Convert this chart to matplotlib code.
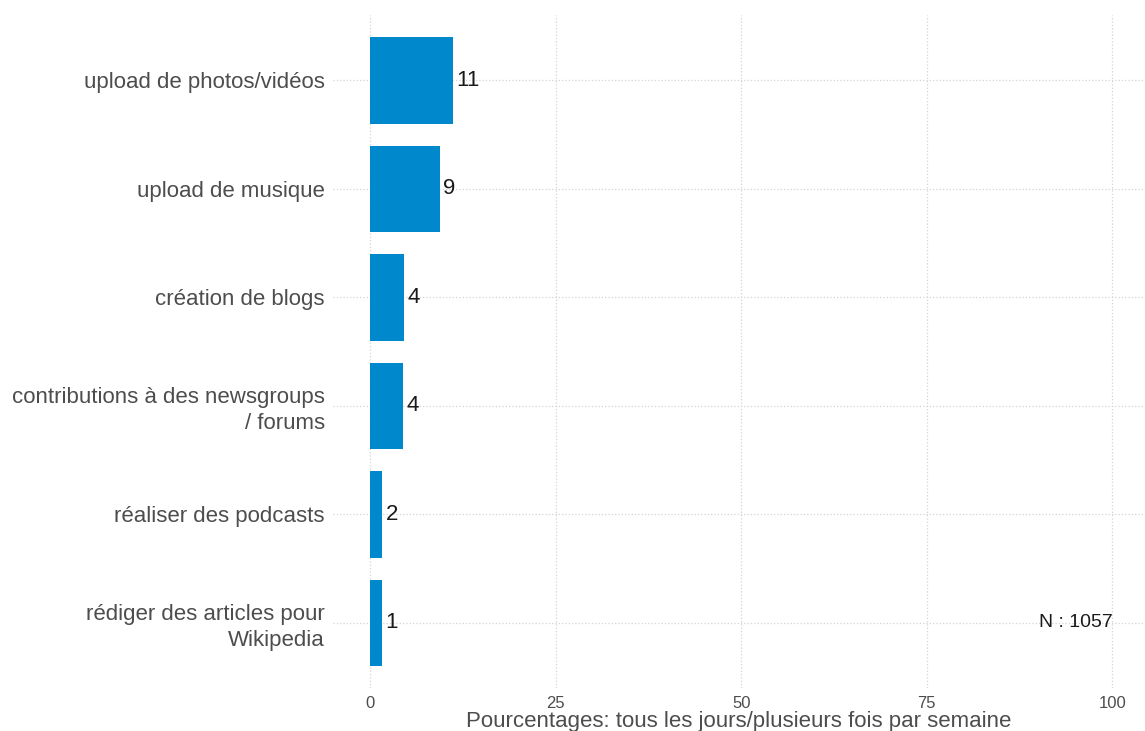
import matplotlib.pyplot as plt

categories = [
    "upload de photos/vidéos",
    "upload de musique",
    "création de blogs",
    "contributions à des newsgroups\n/ forums",
    "réaliser des podcasts",
    "rédiger des articles pour\nWikipedia",
]
values = [11.2, 9.4, 4.6, 4.4, 1.6, 1.6]
value_labels = ["11", "9", "4", "4", "2", "1"]
x_ticks = [0, 25, 50, 75, 100]
n_text = "N : 1057"
x_title = "Pourcentages: tous les jours/plusieurs fois par semaine"

plt.rcParams['font.family'] = ['Liberation Sans', 'DejaVu Sans']

W, H = 1145, 731
fig = plt.figure(figsize=(W / 100, H / 100), dpi=100)
ax = fig.add_axes([333 / W, (H - 688) / H, (W - 333) / W, 672.6 / H])

pos = list(range(len(categories), 0, -1))
ax.barh(pos, values, height=0.8, color='#0088cc', zorder=2)
for p, v, lab in zip(pos, values, value_labels):
    ax.annotate(lab, (v, p), xytext=(2.5, 0), textcoords='offset points',
                ha='left', va='center', fontsize=16, color='#1a1a1a', zorder=3)

ax.text(100, pos[-1], n_text, ha='right', va='center', fontsize=14, color='#1a1a1a')

ax.set_xlim(-5, 104.4)
ax.set_ylim(0.4, len(categories) + 0.6)
ax.set_xticks(x_ticks)
ax.set_yticks(pos)
ax.set_yticklabels(categories, fontsize=16, color='#4d4d4d', linespacing=1.3)
ax.tick_params(axis='x', labelsize=12, labelcolor='#4d4d4d', length=0, pad=6)
ax.tick_params(axis='y', length=0, pad=6)
ax.grid(True, linestyle=':', color='#d4d4d4', linewidth=0.9, zorder=0)
ax.set_axisbelow(True)
for s in ax.spines.values():
    s.set_visible(False)
ax.set_xlabel(x_title, fontsize=16, color='#4d4d4d', labelpad=0)

fig.savefig("out.png", dpi=100)
